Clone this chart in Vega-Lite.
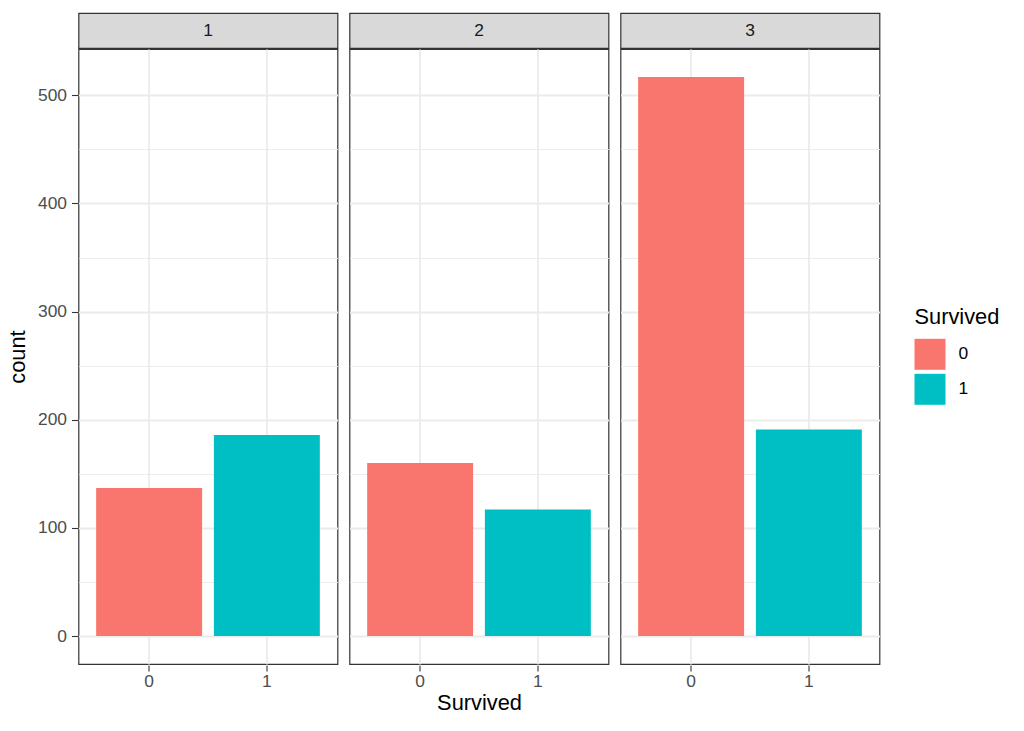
{
  "$schema": "https://vega.github.io/schema/vega-lite/v6.json",
  "padding": {"left": 6.5, "top": 12, "right": 5, "bottom": 5},
  "autosize": {"type": "pad"},
  "background": "white",
  "config": {"font": "Liberation Sans", "view": {"stroke": null}},
  "data": {"values": [
    {"Pclass": "1", "Survived": "0", "count": 137},
    {"Pclass": "1", "Survived": "1", "count": 186},
    {"Pclass": "2", "Survived": "0", "count": 160},
    {"Pclass": "2", "Survived": "1", "count": 117},
    {"Pclass": "3", "Survived": "0", "count": 517},
    {"Pclass": "3", "Survived": "1", "count": 191}
  ]},
  "spacing": -2,
  "vconcat": [
    {
      "transform": [{"aggregate": [{"op": "count", "as": "n"}], "groupby": ["Pclass"]}],
      "facet": {"column": {"field": "Pclass", "type": "ordinal", "header": {"labels": false, "title": null}}},
      "spacing": 10,
      "spec": {
        "width": 259,
        "height": 35,
        "view": {"fill": "#D9D9D9", "stroke": "#333333", "strokeWidth": 1.2},
        "mark": {"type": "text", "fontSize": 17.4, "color": "#1A1A1A", "baseline": "middle", "align": "center"},
        "encoding": {"text": {"field": "Pclass", "type": "nominal"}}
      }
    },
    {
      "facet": {"column": {"field": "Pclass", "type": "ordinal", "header": {"labels": false, "title": "Survived", "titleOrient": "bottom", "titleFontSize": 21.8, "titleFontWeight": "normal", "titleColor": "#000000", "titlePadding": -7}}},
      "spacing": 10,
      "spec": {
        "width": 259,
        "height": 615,
        "view": {"stroke": "#333333", "strokeWidth": 1.2},
        "mark": {"type": "bar"},
        "encoding": {
          "x": {
            "field": "Survived", "type": "nominal",
            "scale": {"paddingInner": 0.1, "paddingOuter": 0.15},
            "axis": {
              "title": null,
              "labelAngle": 0, "labelFontSize": 17.4, "labelColor": "#4D4D4D", "labelPadding": 1,
              "tickColor": "#333333", "tickSize": 6, "tickWidth": 1.1, "domain": false,
              "grid": true, "gridColor": "#EBEBEB", "gridWidth": 1.8, "bandPosition": 0.5
            }
          },
          "y": {
            "field": "count", "type": "quantitative",
            "scale": {"domain": [-25.85, 542.85], "nice": false, "zero": false},
            "axis": {
              "title": "count", "titleFontSize": 21.8, "titleFontWeight": "normal", "titleColor": "#000000", "titlePadding": 8,
              "values": [0, 50, 100, 150, 200, 250, 300, 350, 400, 450, 500],
              "labelExpr": "datum.value % 100 === 0 ? datum.label : ''",
              "labelFontSize": 17.4, "labelColor": "#4D4D4D", "labelPadding": 5,
              "tickColor": "#333333", "tickSize": 6, "tickWidth": 1.1,
              "tickOpacity": {"condition": {"test": "datum.value % 100 === 0", "value": 1}, "value": 0},
              "domain": false, "grid": true, "gridColor": "#EBEBEB",
              "gridWidth": {"condition": {"test": "datum.value % 100 === 0", "value": 1.8}, "value": 0.9}
            }
          },
          "y2": {"datum": 0},
          "color": {
            "field": "Survived", "type": "nominal",
            "scale": {"range": ["#F8766D", "#00BFC4"]},
            "legend": {
              "orient": "none", "legendX": 836, "legendY": 294,
              "title": "Survived", "titleFontSize": 21.8, "titleFontWeight": "normal", "titleColor": "#000000", "titlePadding": 10,
              "labelFontSize": 17.4, "labelColor": "#000000", "labelOffset": 13,
              "symbolType": "square", "symbolSize": 961, "symbolStrokeWidth": 0, "symbolOpacity": 1, "rowPadding": 4, "padding": 0
            }
          }
        }
      }
    }
  ]
}
